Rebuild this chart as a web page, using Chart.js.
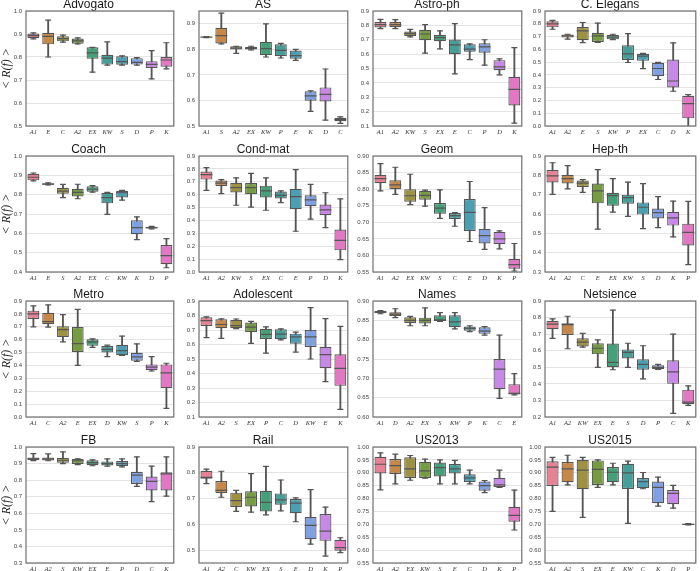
<!DOCTYPE html>
<html><head><meta charset="utf-8">
<script src="https://cdn.jsdelivr.net/npm/chart.js@4"></script>
<style>
html,body{margin:0;padding:0;background:#fff;width:700px;height:571px;overflow:hidden;position:relative}
canvas{position:absolute}
</style></head><body>
<script>
// ---- data: [min, q1, median, q3, max] per method ----
const advogatoLabels = ['A1','E','C','A2','EX','KW','S','D','P','K'];
const advogatoBoxes = [[0.879,0.882,0.893,0.902,0.905],[0.80,0.855,0.89,0.905,0.96],[0.865,0.868,0.88,0.89,0.895],[0.857,0.858,0.87,0.88,0.883],[0.734,0.792,0.818,0.842,0.842],[0.765,0.767,0.795,0.81,0.866],[0.765,0.766,0.78,0.803,0.805],[0.765,0.767,0.777,0.795,0.797],[0.705,0.752,0.768,0.782,0.828],[0.748,0.758,0.787,0.80,0.862]];
const advogatoTicks = ['0.5','0.6','0.7','0.8','0.9','1.0'];
const advogatoRange = [0.5, 1.0];

const asLabels = ['A1','S','A2','EX','KW','P','E','K','D','C'];
const asBoxes = [[0.846,0.847,0.848,0.849,0.85],[0.821,0.823,0.854,0.884,0.942],[0.784,0.799,0.805,0.812,0.812],[0.798,0.799,0.804,0.81,0.812],[0.77,0.777,0.803,0.829,0.90],[0.766,0.773,0.796,0.82,0.823],[0.757,0.763,0.775,0.795,0.80],[0.557,0.599,0.618,0.636,0.638],[0.523,0.596,0.624,0.651,0.723],[0.51,0.519,0.525,0.532,0.536]];
const asTicks = ['0.5','0.6','0.7','0.8','0.9'];
const asRange = [0.5, 0.95];

const astroLabels = ['A1','A2','KW','S','EX','E','C','P','D','K'];
const astroBoxes = [[0.777,0.785,0.805,0.823,0.842],[0.778,0.787,0.805,0.823,0.84],[0.72,0.725,0.742,0.757,0.772],[0.607,0.697,0.74,0.77,0.805],[0.637,0.69,0.715,0.735,0.762],[0.462,0.60,0.665,0.702,0.812],[0.562,0.617,0.635,0.668,0.672],[0.523,0.61,0.65,0.675,0.70],[0.455,0.488,0.512,0.558,0.567],[0.12,0.243,0.355,0.443,0.645]];
const astroTicks = ['0.1','0.2','0.3','0.4','0.5','0.6','0.7','0.8','0.9'];
const astroRange = [0.1, 0.9];

const elegansLabels = ['A1','A2','E','S','KW','P','EX','C','D','K'];
const elegansBoxes = [[0.757,0.772,0.80,0.82,0.827],[0.68,0.692,0.705,0.717,0.718],[0.653,0.672,0.745,0.775,0.81],[0.655,0.658,0.705,0.73,0.805],[0.676,0.678,0.695,0.712,0.718],[0.497,0.517,0.565,0.632,0.723],[0.449,0.51,0.547,0.565,0.568],[0.364,0.39,0.45,0.495,0.498],[0.272,0.302,0.352,0.52,0.65],[-0.03,0.06,0.175,0.237,0.245]];
const elegansTicks = ['0.0','0.1','0.2','0.3','0.4','0.5','0.6','0.7','0.8','0.9'];
const elegansRange = [0.0, 0.9];

const coachLabels = ['A1','E','S','A2','EX','C','KW','K','D','P'];
const coachBoxes = [[0.871,0.874,0.89,0.908,0.912],[0.85,0.851,0.855,0.859,0.861],[0.785,0.805,0.818,0.836,0.853],[0.779,0.791,0.812,0.83,0.854],[0.813,0.815,0.828,0.843,0.847],[0.698,0.755,0.785,0.81,0.812],[0.772,0.785,0.81,0.82,0.822],[0.567,0.595,0.63,0.668,0.685],[0.623,0.625,0.63,0.634,0.636],[0.422,0.44,0.485,0.54,0.573]];
const coachTicks = ['0.4','0.5','0.6','0.7','0.8','0.9','1.0'];
const coachRange = [0.4, 1.0];

const condLabels = ['A1','A2','KW','S','EX','C','E','P','D','K'];
const condBoxes = [[0.634,0.717,0.755,0.78,0.81],[0.608,0.667,0.69,0.71,0.716],[0.518,0.617,0.655,0.692,0.73],[0.504,0.604,0.655,0.69,0.765],[0.479,0.578,0.63,0.67,0.73],[0.538,0.57,0.595,0.625,0.63],[0.316,0.487,0.585,0.645,0.795],[0.41,0.51,0.56,0.595,0.68],[0.345,0.44,0.482,0.523,0.615],[0.096,0.168,0.245,0.33,0.567]];
const condTicks = ['0.0','0.1','0.2','0.3','0.4','0.5','0.6','0.7','0.8','0.9'];
const condRange = [0.0, 0.9];

const geomLabels = ['A1','A2','EX','KW','S','C','E','D','K','P'];
const geomBoxes = [[0.795,0.818,0.832,0.843,0.877],[0.784,0.80,0.813,0.827,0.866],[0.753,0.762,0.78,0.80,0.845],[0.749,0.768,0.781,0.795,0.797],[0.712,0.726,0.743,0.758,0.798],[0.688,0.71,0.72,0.728,0.729],[0.642,0.674,0.73,0.77,0.823],[0.618,0.636,0.66,0.68,0.744],[0.62,0.634,0.65,0.671,0.674],[0.553,0.56,0.572,0.59,0.636]];
const geomTicks = ['0.55','0.60','0.65','0.70','0.75','0.80','0.85','0.90'];
const geomRange = [0.55, 0.90];

const hepLabels = ['A1','A2','C','E','EX','KW','S','D','K','P'];
const hepBoxes = [[0.702,0.763,0.797,0.827,0.865],[0.73,0.758,0.783,0.803,0.85],[0.712,0.74,0.76,0.773,0.778],[0.522,0.655,0.72,0.758,0.83],[0.61,0.643,0.695,0.71,0.783],[0.588,0.653,0.685,0.70,0.765],[0.524,0.597,0.635,0.66,0.757],[0.53,0.577,0.607,0.628,0.69],[0.482,0.54,0.58,0.612,0.667],[0.338,0.437,0.505,0.55,0.665]];
const hepTicks = ['0.3','0.4','0.5','0.6','0.7','0.8','0.9'];
const hepRange = [0.3, 0.9];

const metroLabels = ['A1','C','A2','E','EX','D','KW','S','P','K'];
const metroBoxes = [[0.70,0.76,0.80,0.825,0.862],[0.698,0.72,0.74,0.808,0.87],[0.583,0.62,0.678,0.705,0.795],[0.40,0.505,0.57,0.698,0.835],[0.54,0.552,0.583,0.603,0.606],[0.468,0.50,0.525,0.551,0.557],[0.478,0.479,0.515,0.56,0.628],[0.432,0.437,0.466,0.498,0.568],[0.357,0.363,0.387,0.408,0.468],[0.067,0.223,0.343,0.408,0.417]];
const metroTicks = ['0.0','0.1','0.2','0.3','0.4','0.5','0.6','0.7','0.8','0.9'];
const metroRange = [0.0, 0.9];

const adolLabels = ['A1','A2','S','EX','P','C','D','KW','E','K'];
const adolBoxes = [[0.648,0.728,0.765,0.788,0.79],[0.642,0.712,0.738,0.774,0.777],[0.71,0.712,0.73,0.77,0.776],[0.608,0.687,0.72,0.752,0.76],[0.54,0.638,0.67,0.708,0.722],[0.632,0.636,0.672,0.705,0.708],[0.548,0.606,0.652,0.675,0.685],[0.50,0.583,0.652,0.70,0.855],[0.344,0.437,0.53,0.585,0.778],[0.153,0.315,0.435,0.532,0.725]];
const adolTicks = ['0.1','0.2','0.3','0.4','0.5','0.6','0.7','0.8','0.9'];
const adolRange = [0.1, 0.9];

const namesLabels = ['A1','D','A2','EX','S','KW','P','K','C','E'];
const namesBoxes = [[0.867,0.868,0.871,0.874,0.875],[0.857,0.861,0.866,0.871,0.88],[0.836,0.843,0.85,0.858,0.86],[0.836,0.842,0.85,0.857,0.882],[0.847,0.848,0.851,0.863,0.87],[0.828,0.832,0.846,0.863,0.87],[0.821,0.823,0.829,0.834,0.836],[0.812,0.815,0.822,0.832,0.834],[0.648,0.672,0.724,0.75,0.812],[0.657,0.658,0.661,0.685,0.712]];
const namesTicks = ['0.60','0.65','0.70','0.75','0.80','0.85','0.90'];
const namesRange = [0.60, 0.90];

const netLabels = ['A1','A2','KW','EX','E','S','D','P','C','K'];
const netBoxes = [[0.675,0.73,0.76,0.78,0.792],[0.612,0.695,0.757,0.765,0.808],[0.622,0.625,0.652,0.675,0.705],[0.50,0.578,0.615,0.645,0.665],[0.485,0.50,0.53,0.643,0.845],[0.50,0.553,0.59,0.608,0.645],[0.43,0.485,0.518,0.548,0.63],[0.487,0.49,0.50,0.513,0.518],[0.222,0.40,0.472,0.542,0.70],[0.27,0.277,0.29,0.365,0.388]];
const netTicks = ['0.2','0.3','0.4','0.5','0.6','0.7','0.8','0.9'];
const netRange = [0.2, 0.9];

const fbLabels = ['A1','A2','S','KW','EX','E','P','D','C','K'];
const fbBoxes = [[0.918,0.92,0.928,0.937,0.96],[0.917,0.918,0.927,0.937,0.958],[0.90,0.905,0.92,0.933,0.97],[0.894,0.898,0.917,0.927,0.928],[0.887,0.89,0.906,0.92,0.922],[0.884,0.888,0.90,0.913,0.928],[0.88,0.885,0.90,0.915,0.928],[0.762,0.777,0.83,0.85,0.94],[0.67,0.738,0.793,0.822,0.885],[0.704,0.738,0.838,0.848,0.94]];
const fbTicks = ['0.3','0.4','0.5','0.6','0.7','0.8','0.9','1.0'];
const fbRange = [0.3, 1.0];

const railLabels = ['A1','A2','C','KW','EX','S','E','D','K','P'];
const railBoxes = [[0.758,0.777,0.782,0.808,0.814],[0.705,0.722,0.732,0.768,0.806],[0.65,0.667,0.692,0.723,0.732],[0.647,0.669,0.705,0.728,0.797],[0.637,0.65,0.685,0.73,0.825],[0.652,0.676,0.695,0.72,0.772],[0.61,0.643,0.682,0.698,0.703],[0.523,0.542,0.596,0.628,0.735],[0.477,0.536,0.574,0.64,0.667],[0.49,0.498,0.51,0.54,0.548]];
const railTicks = ['0.5','0.6','0.7','0.8','0.9'];
const railRange = [0.45, 0.9];

const us13Labels = ['A1','A2','EX','KW','S','E','C','D','K','P'];
const us13Boxes = [[0.834,0.897,0.933,0.962,0.977],[0.857,0.895,0.928,0.953,0.972],[0.871,0.88,0.915,0.96,0.967],[0.879,0.88,0.907,0.943,0.953],[0.857,0.886,0.92,0.94,0.95],[0.857,0.897,0.915,0.934,0.948],[0.857,0.864,0.88,0.894,0.91],[0.823,0.83,0.85,0.866,0.87],[0.843,0.845,0.853,0.881,0.91],[0.678,0.71,0.735,0.768,0.833]];
const us13Ticks = ['0.55','0.60','0.65','0.70','0.75','0.80','0.85','0.90','0.95','1.00'];
const us13Range = [0.55, 1.0];

const us15Labels = ['A1','A2','S','EX','E','KW','C','K','D','P'];
const us15Boxes = [[0.75,0.849,0.922,0.945,0.96],[0.853,0.863,0.915,0.942,0.968],[0.727,0.836,0.91,0.95,0.96],[0.843,0.853,0.913,0.948,0.95],[0.853,0.863,0.902,0.922,0.937],[0.704,0.837,0.90,0.935,0.945],[0.838,0.84,0.866,0.88,0.901],[0.771,0.782,0.843,0.866,0.883],[0.763,0.778,0.82,0.833,0.851],[0.698,0.699,0.70,0.702,0.703]];
const us15Ticks = ['0.55','0.60','0.65','0.70','0.75','0.80','0.85','0.90','0.95','1.00'];
const us15Range = [0.55, 1.0];

const panels = [
  ['Advogato', advogatoLabels, advogatoBoxes, advogatoTicks, advogatoRange],
  ['AS', asLabels, asBoxes, asTicks, asRange],
  ['Astro-ph', astroLabels, astroBoxes, astroTicks, astroRange],
  ['C. Elegans', elegansLabels, elegansBoxes, elegansTicks, elegansRange],
  ['Coach', coachLabels, coachBoxes, coachTicks, coachRange],
  ['Cond-mat', condLabels, condBoxes, condTicks, condRange],
  ['Geom', geomLabels, geomBoxes, geomTicks, geomRange],
  ['Hep-th', hepLabels, hepBoxes, hepTicks, hepRange],
  ['Metro', metroLabels, metroBoxes, metroTicks, metroRange],
  ['Adolescent', adolLabels, adolBoxes, adolTicks, adolRange],
  ['Names', namesLabels, namesBoxes, namesTicks, namesRange],
  ['Netsience', netLabels, netBoxes, netTicks, netRange],
  ['FB', fbLabels, fbBoxes, fbTicks, fbRange],
  ['Rail', railLabels, railBoxes, railTicks, railRange],
  ['US2013', us13Labels, us13Boxes, us13Ticks, us13Range],
  ['US2015', us15Labels, us15Boxes, us15Ticks, us15Range]
];

// ---- layout & style ----
const colLeft = [26, 199, 373, 545];
const colW = [151, 152, 152, 154];
const rowTop = [11, 156, 301, 447];
const rowH = [115, 116, 116, 116];
const palette = ['#e78294','#c78847','#9e9241','#759c40','#43a078','#459e97','#4a9fb3','#7fa1e3','#c789e5','#e377c4'];
const edge = '#555555';
const TITLE_H = 14, XAX_H = 14;

const framePlugin = {
  id: 'frame',
  afterDraw(chart) {
    const {ctx, chartArea: a} = chart;
    ctx.save();
    ctx.strokeStyle = '#6f6f6f';
    ctx.lineWidth = 1.2;
    ctx.strokeRect(a.left, a.top, a.right - a.left, a.bottom - a.top);
    ctx.restore();
  }
};

panels.forEach((p, i) => {
  const [title, labels, boxes, ticks, range] = p;
  const col = i % 4, row = Math.floor(i / 4);
  const yw = col === 0 ? 26 : 24;
  const cv = document.createElement('canvas');
  const W = yw + colW[col] + 2, H = TITLE_H + rowH[row] + XAX_H;
  cv.width = W; cv.height = H;
  cv.style.width = W + 'px'; cv.style.height = H + 'px';
  cv.style.left = (colLeft[col] - yw) + 'px';
  cv.style.top = (rowTop[row] - TITLE_H) + 'px';
  document.body.appendChild(cv);
  const n = labels.length;
  const half = f => ctx => {
    const a = ctx.chart.chartArea;
    return a ? (a.right - a.left) / n * f : 4;
  };
  const tickVals = ticks.map(Number);
  const pointDs = (vals, f) => ({
    type: 'line', data: vals, showLine: false, pointStyle: 'line',
    pointRadius: half(f), pointHoverRadius: half(f), pointBorderColor: edge, pointBorderWidth: 1.2,
    pointBackgroundColor: edge, clip: 0, order: 1
  });
  new Chart(cv, {
    type: 'bar',
    data: {
      labels: labels,
      datasets: [
        {type: 'bar', data: boxes.map(b => [b[0], b[4]]), backgroundColor: edge, barThickness: 1.2,
         grouped: false, clip: 0, order: 3},
        {type: 'bar', data: boxes.map(b => [b[1], b[3]]), backgroundColor: palette, borderColor: edge,
         borderWidth: 1.2, borderSkipped: false, barPercentage: 0.8, categoryPercentage: 1,
         grouped: false, clip: 0, order: 2},
        pointDs(boxes.map(b => b[2]), 0.4),
        pointDs(boxes.map(b => b[0]), 0.2),
        pointDs(boxes.map(b => b[4]), 0.2)
      ]
    },
    options: {
      responsive: false, maintainAspectRatio: false, animation: false, events: [],
      devicePixelRatio: 1,
      layout: {padding: {left: 0, right: 2, top: 0, bottom: 0}},
      plugins: {
        legend: {display: false}, tooltip: {enabled: false},
        title: {display: true, text: title, color: '#1a1a1a',
          font: {family: 'Liberation Sans', size: 12, weight: 'normal', lineHeight: 1},
          padding: {top: 2, bottom: 0}}
      },
      scales: {
        x: {
          grid: {display: false, drawTicks: false}, border: {display: false},
          ticks: {autoSkip: false, maxRotation: 0, minRotation: 0, padding: 2, color: '#333',
            font: {family: 'Liberation Serif', style: 'italic', size: 6.5}},
          afterFit(s) { s.height = XAX_H; }
        },
        y: {
          min: range[0], max: range[1],
          grid: {color: '#e4e4e4', lineWidth: 1, drawTicks: false}, border: {display: false},
          ticks: {padding: 4, color: '#444', font: {family: 'Liberation Sans', size: 6},
            callback: (v, idx) => ticks[idx]},
          afterBuildTicks(s) { s.ticks = tickVals.map(v => ({value: v})); },
          afterFit(s) { s.width = yw; },
          title: col === 0 ? {display: true, text: '< R(f) >', color: '#222',
            font: {family: 'Liberation Serif', size: 12, style: 'italic', lineHeight: 1},
            padding: {top: 1, bottom: 0}} : {display: false}
        }
      }
    },
    plugins: [framePlugin]
  });
});
</script>
</body></html>
